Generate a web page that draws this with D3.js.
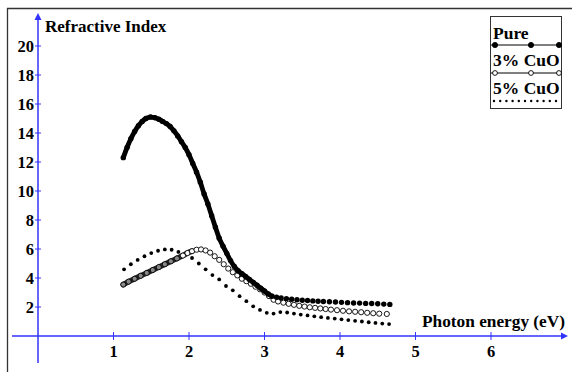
<!DOCTYPE html>
<html>
<head>
<meta charset="utf-8">
<script src="https://cdn.jsdelivr.net/npm/d3@7/dist/d3.min.js"></script>
<style>
  html, body { margin: 0; padding: 0; background: #fff; }
  svg { display: block; }
</style>
</head>
<body>
<svg id="chart" width="572" height="372"></svg>
<script>
// Refractive index vs photon energy for pure and CuO-doped films
const xTicks = [1, 2, 3, 4, 5, 6];
const yTicks = [2, 4, 6, 8, 10, 12, 14, 16, 18, 20];
const seriesNames = ["Pure", "3% CuO", "5% CuO"];

const pureE = [1.13, 1.18, 1.23, 1.28, 1.33, 1.38, 1.43, 1.49, 1.55, 1.60, 1.65, 1.70, 1.75, 1.80, 1.85, 1.90, 1.95, 2.00,
  2.05, 2.10, 2.15, 2.20, 2.25, 2.30, 2.35, 2.40, 2.45, 2.50, 2.55, 2.60, 2.65, 2.70, 2.75, 2.80, 2.85, 2.90, 2.95, 3.00,
  3.05, 3.10, 3.16, 3.22, 3.29, 3.36, 3.43, 3.50, 3.57, 3.64, 3.71, 3.78, 3.86, 3.94, 4.02, 4.10, 4.18, 4.26, 4.34, 4.42,
  4.50, 4.58, 4.66];
const pureN = [12.3, 13.0, 13.6, 14.1, 14.5, 14.8, 15.0, 15.1, 15.05, 14.95, 14.8, 14.65, 14.45, 14.15, 13.8, 13.4, 13.0, 12.5,
  11.9, 11.3, 10.6, 9.8, 9.1, 8.3, 7.5, 6.75, 6.2, 5.7, 5.2, 4.8, 4.5, 4.3, 4.1, 3.9, 3.7, 3.5, 3.3, 3.1,
  2.9, 2.75, 2.68, 2.62, 2.58, 2.53, 2.5, 2.47, 2.45, 2.42, 2.4, 2.38, 2.36, 2.34, 2.32, 2.3, 2.28, 2.27, 2.25, 2.24,
  2.22, 2.2, 2.18];

const cuo3E = [1.13, 1.20, 1.28, 1.36, 1.44, 1.52, 1.60, 1.68, 1.76, 1.84, 1.92, 1.98, 2.04, 2.10, 2.16, 2.22, 2.28, 2.34,
  2.40, 2.46, 2.52, 2.58, 2.64, 2.70, 2.76, 2.82, 2.88, 2.94, 3.00, 3.06, 3.12, 3.18, 3.25, 3.32, 3.39, 3.46, 3.53, 3.60,
  3.67, 3.74, 3.81, 3.88, 3.96, 4.04, 4.12, 4.20, 4.28, 4.36, 4.44, 4.52, 4.62];
const cuo3N = [3.55, 3.75, 3.95, 4.15, 4.35, 4.55, 4.75, 4.95, 5.15, 5.35, 5.55, 5.72, 5.85, 5.95, 5.97, 5.9, 5.75, 5.5,
  5.25, 4.95, 4.65, 4.4, 4.18, 3.95, 3.78, 3.6, 3.4, 3.22, 3.0, 2.75, 2.5, 2.38, 2.3, 2.22, 2.15, 2.08, 2.03, 1.98,
  1.94, 1.9, 1.86, 1.82, 1.78, 1.74, 1.7, 1.67, 1.64, 1.6, 1.57, 1.54, 1.52];

const cuo5E = [1.14, 1.23, 1.32, 1.41, 1.50, 1.59, 1.68, 1.77, 1.86, 1.95, 2.04, 2.13, 2.22, 2.31, 2.40, 2.49, 2.58, 2.67,
  2.76, 2.85, 2.94, 3.03, 3.12, 3.21, 3.30, 3.39, 3.48, 3.57, 3.66, 3.75, 3.84, 3.93, 4.02, 4.11, 4.20, 4.29, 4.38, 4.47,
  4.56, 4.65];
const cuo5N = [4.6, 4.95, 5.25, 5.5, 5.72, 5.88, 5.97, 5.95, 5.8, 5.6, 5.38, 5.0, 4.6, 4.2, 3.9, 3.45, 3.15, 2.75,
  2.4, 2.05, 1.8, 1.6, 1.55, 1.65, 1.62, 1.55, 1.48, 1.42, 1.36, 1.3, 1.25, 1.2, 1.15, 1.1, 1.05, 1.0, 0.95, 0.9,
  0.86, 0.82];

const FONT = "Liberation Serif";
const svg = d3.select("#chart");
const AXIS = "#3333ff";

const x = d3.scaleLinear().domain([0, 6]).range([38, 491]);
const y = d3.scaleLinear().domain([0, 20]).range([336, 46]);

const label = (sel) => sel.attr("font-family", FONT).attr("font-weight", "bold").attr("fill", "#000");

// outer frame (left and top edges)
svg.append("line").attr("x1", 7.5).attr("x2", 7.5).attr("y1", 8).attr("y2", 372)
  .attr("stroke", "#333").attr("stroke-width", 1.3);
svg.append("line").attr("x1", 7).attr("x2", 572).attr("y1", 8.5).attr("y2", 8.5)
  .attr("stroke", "#333").attr("stroke-width", 1.3);

// axes
const ax = svg.append("g");
ax.append("line").attr("x1", 12).attr("x2", 563).attr("y1", y(0)).attr("y2", y(0))
  .attr("stroke", AXIS).attr("stroke-width", 1.5);
ax.append("path").attr("d", `M568,${y(0)} L561,${y(0) - 3.5} L561,${y(0) + 3.5} Z`).attr("fill", AXIS);
ax.append("line").attr("x1", x(0)).attr("x2", x(0)).attr("y1", 363).attr("y2", 19)
  .attr("stroke", AXIS).attr("stroke-width", 1.5);
ax.append("path").attr("d", `M${x(0)},13 L${x(0) - 3.5},20 L${x(0) + 3.5},20 Z`).attr("fill", AXIS);

ax.selectAll(".xt").data(xTicks).join("line")
  .attr("x1", d => x(d)).attr("x2", d => x(d)).attr("y1", y(0) - 4).attr("y2", y(0) + 4)
  .attr("stroke", AXIS).attr("stroke-width", 1);
ax.selectAll(".yt").data(yTicks).join("line")
  .attr("x1", x(0) - 3).attr("x2", x(0) + 3).attr("y1", d => y(d)).attr("y2", d => y(d))
  .attr("stroke", AXIS).attr("stroke-width", 1);

ax.selectAll(".xl").data(xTicks).join("text")
  .attr("x", d => x(d)).attr("y", 357).attr("text-anchor", "middle")
  .attr("font-size", 16.5).text(d => d).call(label);
ax.selectAll(".yl").data(yTicks).join("text")
  .attr("x", 34).attr("y", d => y(d) + 5.5).attr("text-anchor", "end")
  .attr("font-size", 16.5).text(d => d).call(label);

svg.append("text").attr("x", 45).attr("y", 32).attr("font-size", 17).text("Refractive Index").call(label);
svg.append("text").attr("x", 422).attr("y", 327).attr("font-size", 17.3).text("Photon energy (eV)").call(label);

const zip = (es, ns) => es.map((e, i) => ({ e, n: ns[i] }));
const pure = zip(pureE, pureN);
const cuo3 = zip(cuo3E, cuo3N);
const cuo5 = zip(cuo5E, cuo5N);

const line = d3.line().x(d => x(d.e)).y(d => y(d.n)).curve(d3.curveCatmullRom);
const plot = svg.append("g");

// 5% CuO: small dots
plot.selectAll(".c5").data(cuo5).join("circle")
  .attr("cx", d => x(d.e)).attr("cy", d => y(d.n)).attr("r", 1.9).attr("fill", "#000");

// 3% CuO: dense band at low energy, open circles throughout
plot.append("path").datum(cuo3.filter(d => d.e <= 2.06)).attr("d", line)
  .attr("fill", "none").attr("stroke", "#222").attr("stroke-width", 5.5).attr("stroke-linecap", "round");
plot.selectAll(".c3").data(cuo3).join("circle")
  .attr("cx", d => x(d.e)).attr("cy", d => y(d.n)).attr("r", 2.6)
  .attr("fill", d => d.e < 1.9 ? "#888" : "#fff").attr("stroke", "#000").attr("stroke-width", 0.9);

// Pure: dense part reads as a solid thick curve, filled dots beyond
plot.append("path").datum(pure.filter(d => d.e <= 3.11)).attr("d", line)
  .attr("fill", "none").attr("stroke", "#000").attr("stroke-width", 4.8).attr("stroke-linecap", "round");
plot.selectAll(".cp").data(pure).join("circle")
  .attr("cx", d => x(d.e)).attr("cy", d => y(d.n)).attr("r", 2.7).attr("fill", "#000");

// legend
const lg = svg.append("g");
lg.append("rect").attr("x", 490.5).attr("y", 16.5).attr("width", 71).attr("height", 92)
  .attr("fill", "#fff").attr("stroke", "#333").attr("stroke-width", 1);
const rows = [
  { name: seriesNames[0], ty: 39, ly: 45, kind: "filled" },
  { name: seriesNames[1], ty: 66, ly: 73, kind: "open" },
  { name: seriesNames[2], ty: 94, ly: 101, kind: "dots" }
];
rows.forEach(r => {
  lg.append("text").attr("x", 493).attr("y", r.ty).attr("font-size", 17.5).text(r.name).call(label);
  if (r.kind === "dots") {
    lg.selectAll(null).data(d3.range(494, 561, 6.2)).join("circle")
      .attr("cx", d => d).attr("cy", r.ly).attr("r", 1.2).attr("fill", "#000");
  } else {
    lg.append("line").attr("x1", 491).attr("x2", 562).attr("y1", r.ly).attr("y2", r.ly)
      .attr("stroke", "#000").attr("stroke-width", 1.2);
    lg.selectAll(null).data([495, 531, 559]).join("circle")
      .attr("cx", d => d).attr("cy", r.ly).attr("r", r.kind === "filled" ? 2.6 : 2.4)
      .attr("fill", r.kind === "filled" ? "#000" : "#fff").attr("stroke", "#000").attr("stroke-width", 0.9);
  }
});
</script>
</body>
</html>
